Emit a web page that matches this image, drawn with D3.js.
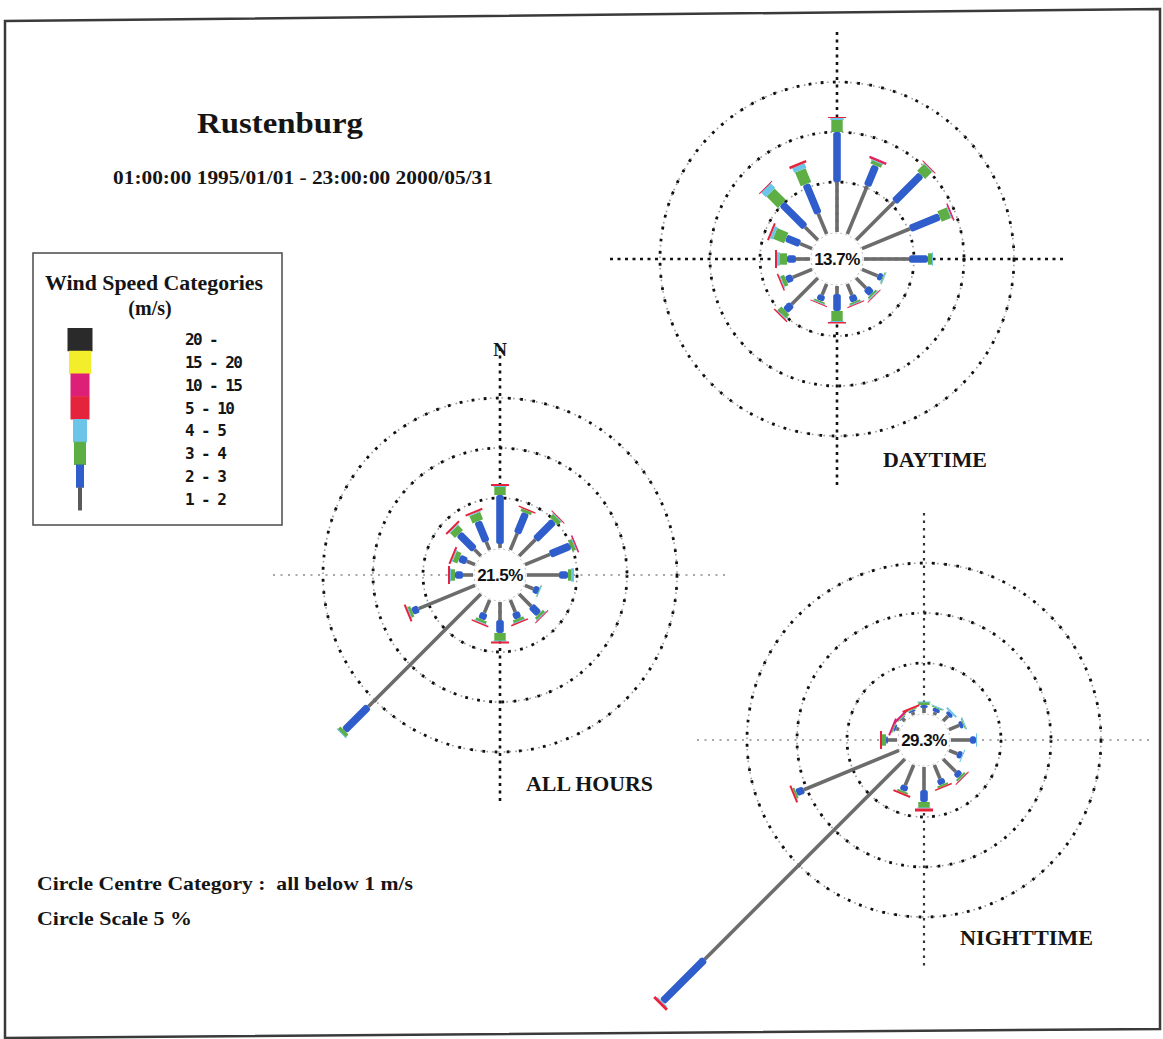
<!DOCTYPE html>
<html>
<head>
<meta charset="utf-8">
<script src="https://cdn.jsdelivr.net/npm/d3@7"></script>
<style>
  html, body { margin: 0; padding: 0; background: #ffffff; }
  svg { display: block; }
  text { white-space: pre; }
</style>
</head>
<body>
<svg id="chart" width="1163" height="1039"></svg>
<script>
// ---- data -------------------------------------------------------------
const directions = ["N","NNE","NE","ENE","E","ESE","SE","SSE","S","SSW","SW","WSW","W","WNW","NW","NNW"];

const speedCategories = ["1 - 2","2 - 3","3 - 4","4 - 5","5 - 10","10 - 15","15 - 20","20 -"];
const categoryColors  = ["#5a5a5a","#2f5ecc","#5cae45","#6cc4e8","#e6233d","#de1f78","#f2ee2c","#2a2a2a"];
const categoryWidths  = [4, 8, 12, 14, 19, 19, 22, 25];

const ringPercents = [5, 10, 15];

// frequency (%) per direction; columns follow speedCategories (1-2 ... 10-15)
const allHoursFreq = [
  [0.4, 4.9, 0.8, 0.1, 0.2, 0],
  [1.8, 2.2, 0.3, 0.0, 0.15, 0],
  [2.3, 2.6, 0.5, 0.05, 0.1, 0],
  [2.7, 2.2, 0.4, 0.05, 0.1, 0.05],
  [3.2, 0.9, 0.3, 0.3, 0, 0],
  [0.9, 0.6, 0.05, 0.05, 0, 0],
  [1.7, 1.1, 0.3, 0.05, 0.1, 0],
  [1.3, 0.7, 0.3, 0.05, 0.15, 0],
  [1.8, 1.3, 0.8, 0.05, 0.2, 0],
  [1.4, 0.7, 0.3, 0.05, 0.15, 0],
  [15.9, 3.4, 0.4, 0.05, 0, 0],
  [6.1, 0.7, 0.3, 0.05, 0.2, 0],
  [1.0, 0.8, 0.4, 0.1, 0.2, 0],
  [0.9, 0.8, 0.5, 0.1, 0.2, 0],
  [0.9, 2.2, 0.7, 0.1, 0.2, 0],
  [0.9, 2.2, 0.8, 0.1, 0.2, 0]
];

const daytimeFreq = [
  [5.0, 5.0, 1.2, 0.2, 0.1, 0],
  [5.2, 2.2, 0.4, 0.05, 0.2, 0.05],
  [5.4, 3.8, 1.0, 0.05, 0.1, 0],
  [5.2, 3.2, 1.0, 0.1, 0.1, 0.05],
  [4.5, 1.9, 0.4, 0.1, 0, 0],
  [1.7, 0.5, 0.1, 0.1, 0, 0],
  [1.4, 0.8, 0.2, 0.1, 0.1, 0],
  [1.2, 0.7, 0.2, 0.05, 0.1, 0],
  [0.8, 1.7, 1.0, 0.1, 0.15, 0],
  [1.2, 0.6, 0.2, 0.05, 0.1, 0],
  [3.7, 0.9, 0.5, 0.1, 0.15, 0],
  [2.1, 0.7, 0.4, 0.1, 0.15, 0],
  [1.4, 0.9, 0.7, 0.3, 0.2, 0],
  [1.3, 1.5, 1.2, 0.3, 0.2, 0],
  [1.8, 3.3, 1.6, 0.7, 0.05, 0],
  [2.2, 3.2, 1.5, 0.5, 0.25, 0]
];

const nighttimeFreq = [
  [0.5, 0.3, 0.3, 0.05, 0, 0],
  [0.3, 0.4, 0.1, 0.1, 0, 0],
  [0.7, 0.4, 0, 0.2, 0, 0],
  [1.1, 0.4, 0.1, 0.1, 0, 0],
  [1.9, 0.6, 0, 0.1, 0, 0],
  [0.9, 0.5, 0, 0.1, 0, 0],
  [1.8, 0.6, 0.2, 0.1, 0.05, 0],
  [1.5, 0.6, 0.2, 0, 0.15, 0],
  [2.3, 1.2, 0.6, 0.05, 0.3, 0],
  [2.2, 0.6, 0.2, 0, 0.2, 0],
  [28.3, 6.0, 0, 0.1, 0.3, 0],
  [10.3, 0.8, 0.2, 0, 0.2, 0],
  [0.9, 0.2, 0.4, 0, 0.2, 0],
  [0.3, 0.2, 0.1, 0, 0, 0.2],
  [0.3, 0.1, 0.1, 0, 0, 0.2],
  [0.3, 0.2, 0.1, 0, 0.2, 0]
];

const calmPercents = ["21.5%", "13.7%", "29.3%"];
const roseTitles   = ["ALL HOURS", "DAYTIME", "NIGHTTIME"];

// ---- drawing ----------------------------------------------------------
const svg = d3.select("#chart");
const serif = "'Liberation Serif', 'Times New Roman', serif";

// page frame
svg.append("path")
  .attr("d", "M5,21 L1160,9 L1160,1029 L5,1038 Z")
  .attr("fill", "none")
  .attr("stroke", "#3a3a3a")
  .attr("stroke-width", 2.5);

// titles
svg.append("text").attr("x", 197).attr("y", 133)
  .attr("font-family", serif).attr("font-weight", "bold").attr("font-size", 30)
  .attr("textLength", 166).attr("lengthAdjust", "spacingAndGlyphs")
  .attr("fill", "#151515").text("Rustenburg");

svg.append("text").attr("x", 113).attr("y", 184)
  .attr("font-family", serif).attr("font-weight", "bold").attr("font-size", 18)
  .attr("textLength", 380).attr("lengthAdjust", "spacingAndGlyphs")
  .attr("fill", "#151515").text("01:00:00 1995/01/01 - 23:00:00 2000/05/31");

// notes
svg.append("text").attr("x", 37).attr("y", 890)
  .attr("font-family", serif).attr("font-weight", "bold").attr("font-size", 19)
  .attr("textLength", 376).attr("lengthAdjust", "spacingAndGlyphs")
  .attr("fill", "#151515").text("Circle Centre Category :  all below 1 m/s");
svg.append("text").attr("x", 37).attr("y", 925)
  .attr("font-family", serif).attr("font-weight", "bold").attr("font-size", 19)
  .attr("textLength", 155).attr("lengthAdjust", "spacingAndGlyphs")
  .attr("fill", "#151515").text("Circle Scale 5 %");

// legend
const legend = svg.append("g");
legend.append("rect").attr("x", 33).attr("y", 253).attr("width", 249).attr("height", 272)
  .attr("fill", "#fff").attr("stroke", "#4a4a4a").attr("stroke-width", 1.5);
legend.append("text").attr("x", 45).attr("y", 290)
  .attr("font-family", serif).attr("font-weight", "bold").attr("font-size", 20)
  .attr("textLength", 218).attr("lengthAdjust", "spacingAndGlyphs")
  .attr("fill", "#151515").text("Wind Speed Categories");
legend.append("text").attr("x", 150).attr("y", 315).attr("text-anchor", "middle")
  .attr("font-family", serif).attr("font-weight", "bold").attr("font-size", 20)
  .attr("fill", "#151515").text("(m/s)");

const legendOrder = d3.range(speedCategories.length).reverse();
const legendY = d3.scaleBand().domain(legendOrder).range([328, 510]).padding(0);
const legendCx = 80;
legend.selectAll("rect.key").data(legendOrder).join("rect")
  .attr("class", "key")
  .attr("x", k => legendCx - categoryWidths[k] / 2)
  .attr("y", k => legendY(k))
  .attr("width", k => categoryWidths[k])
  .attr("height", legendY.bandwidth() + 0.5)
  .attr("fill", k => categoryColors[k]);
legend.selectAll("text.key").data(legendOrder).join("text")
  .attr("class", "key")
  .attr("x", 185)
  .attr("y", k => legendY(k) + legendY.bandwidth() / 2 + 6)
  .attr("font-family", "'DejaVu Sans Mono', monospace").attr("font-weight", "bold")
  .attr("font-size", 16).attr("letter-spacing", -1.6)
  .attr("fill", "#151515")
  .text(k => speedCategories[k]);

// wind roses
const r0 = 27;
const rScale = d3.scaleLinear().domain([0, 20]).range([r0, r0 + 200]);
const angle = d3.scaleBand().domain(directions).range([0, 360]).align(0).paddingInner(0).paddingOuter(0);

function drawRose(cx, cy, freq, calm, title, titlePos, axisStyle) {
  const g = svg.append("g").attr("transform", `translate(${cx},${cy})`);

  // dotted rings: faint grey dots with heavier black dots
  ringPercents.forEach(p => {
    const r = rScale(p);
    g.append("circle").attr("r", r).attr("fill", "none")
      .attr("stroke", "#9a9a9a").attr("stroke-width", 1.6).attr("stroke-dasharray", "1.6 4.2");
    g.append("circle").attr("r", r).attr("fill", "none")
      .attr("stroke", "#111").attr("stroke-width", 2.8).attr("stroke-dasharray", "2.8 9.4");
  });

  // compass axes
  const ext = rScale(20);
  g.append("line").attr("x1", 0).attr("x2", 0).attr("y1", -ext).attr("y2", ext)
    .attr("stroke", axisStyle.v.color).attr("stroke-width", axisStyle.v.width)
    .attr("stroke-dasharray", axisStyle.v.dash);
  g.append("line").attr("y1", 0).attr("y2", 0).attr("x1", -ext).attr("x2", ext)
    .attr("stroke", axisStyle.h.color).attr("stroke-width", axisStyle.h.width)
    .attr("stroke-dasharray", axisStyle.h.dash);

  // petals
  directions.forEach((d, i) => {
    const pg = g.append("g").attr("transform", `rotate(${angle(d)})`);
    let cum = 0;
    freq[i].forEach((v, k) => {
      if (v <= 0) return;
      const a = rScale(cum), b = rScale(cum + v);
      cum += v;
      const w = k === 0 ? 3.6 : categoryWidths[k] * 0.95;
      pg.append("rect")
        .attr("x", -w / 2).attr("y", -b)
        .attr("width", w).attr("height", Math.max(b - a, 1))
        .attr("rx", k === 1 ? 2.5 : 0)
        .attr("fill", k === 0 ? "#6c6c6c" : categoryColors[k]);
    });
  });

  // calm centre
  g.append("circle").attr("r", r0 - 1).attr("fill", "#fff")
    .attr("stroke", "#bdbdbd").attr("stroke-width", 1).attr("stroke-dasharray", "2 3");
  g.append("text").attr("text-anchor", "middle").attr("y", 6)
    .attr("font-family", "'Liberation Sans', Arial, sans-serif").attr("font-size", 17)
    .attr("font-weight", "bold").attr("letter-spacing", -0.5)
    .attr("fill", "#111").text(calm);

  svg.append("text").attr("x", titlePos[0]).attr("y", titlePos[1])
    .attr("font-family", serif).attr("font-weight", "bold").attr("font-size", 21)
    .attr("textLength", titlePos[2]).attr("lengthAdjust", "spacingAndGlyphs")
    .attr("fill", "#151515").text(title);
  return g;
}

const heavy = { color: "#111", width: 2.6, dash: "3 4.5" };
const light = { color: "#8a8a8a", width: 1.6, dash: "2 5.5" };

drawRose(500, 575, allHoursFreq, calmPercents[0], roseTitles[0], [526, 791, 127], { v: heavy, h: light });
drawRose(837, 259, daytimeFreq, calmPercents[1], roseTitles[1], [883, 467, 104], { v: heavy, h: heavy });
drawRose(924, 740, nighttimeFreq, calmPercents[2], roseTitles[2], [960, 945, 133],
         { v: { color: "#333", width: 2.2, dash: "2.5 5" }, h: light });

// north marker above the all-hours rose
svg.append("text").attr("x", 500).attr("y", 356).attr("text-anchor", "middle")
  .attr("font-family", serif).attr("font-weight", "bold").attr("font-size", 19)
  .attr("fill", "#151515").text("N");
</script>
</body>
</html>
